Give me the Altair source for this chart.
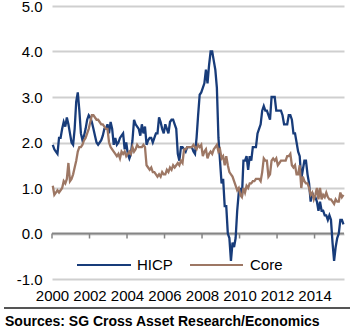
import altair as alt
import pandas as pd

# ---- data (euro area, % y/y, monthly from Jan 2000) ----
START_YEAR = 2000
series_names = ["HICP", "Core"]
source_text = "Sources: SG Cross Asset Research/Economics"
tick_years = [2000, 2002, 2004, 2006, 2008, 2010, 2012, 2014]
y_ticks = [-1, 0, 1, 2, 3, 4, 5]

hicp = [
    1.95, 1.85, 1.8, 1.75, 2.1, 2.1, 2.3, 2.45, 2.35, 2.55, 2.4, 2.2,      # 2000
    2.0, 1.95, 2.3, 2.9, 3.1, 2.7, 2.2, 2.05, 2.15, 2.3, 2.5, 2.6,        # 2001
    2.55, 2.45, 2.3, 2.15, 2.0, 1.95, 2.0, 2.05, 2.15, 2.3, 2.3, 2.4,     # 2002
    2.2, 2.45, 2.3, 1.95, 2.1, 1.95, 2.0, 2.1, 2.15, 2.2, 1.85, 2.0,      # 2003
    1.75, 1.65, 1.75, 2.05, 2.5, 2.4, 2.35, 2.3, 2.15, 2.4, 2.2, 2.35,    # 2004
    1.95, 2.05, 2.1, 2.1, 2.0, 2.1, 2.2, 2.2, 2.55, 2.45, 2.3, 2.2,       # 2005
    2.4, 2.3, 2.2, 2.45, 2.5, 2.5, 2.4, 2.3, 1.75, 1.6, 1.9, 1.9,         # 2006
    1.85, 1.8, 1.9, 1.9, 1.9, 1.9, 1.8, 1.75, 2.1, 2.6, 3.05, 3.1,        # 2007
    3.2, 3.3, 3.6, 3.3, 3.7, 4.0, 4.0, 3.8, 3.6, 3.2, 2.1, 1.6,           # 2008
    1.1, 1.2, 0.6, 0.6, 0.0, -0.1, -0.6, -0.2, -0.3, -0.1, 0.5, 0.9,     # 2009
    1.0, 0.8, 1.6, 1.6, 1.7, 1.4, 1.7, 1.6, 1.9, 1.9, 1.9, 2.2,           # 2010
    2.3, 2.4, 2.7, 2.8, 2.7, 2.7, 2.6, 2.5, 3.0, 3.0, 3.0, 2.7,           # 2011
    2.7, 2.7, 2.7, 2.6, 2.4, 2.4, 2.4, 2.6, 2.6, 2.5, 2.2, 2.2,           # 2012
    2.0, 1.8, 1.7, 1.2, 1.4, 1.6, 1.6, 1.3, 1.1, 0.7, 0.9, 0.8,           # 2013
    0.8, 0.7, 0.5, 0.7, 0.5, 0.5, 0.4, 0.4, 0.3, 0.4, 0.3, -0.2,          # 2014
    -0.6, -0.3, -0.1, 0.0, 0.3, 0.3, 0.2,                                 # 2015
]

core = [
    1.05, 0.85, 0.9, 0.95, 0.9, 0.95, 1.0, 1.15, 1.1, 1.2, 1.55, 1.15,    # 2000
    1.2, 1.3, 1.45, 1.6, 1.8, 1.9, 1.9, 1.95, 2.05, 2.1, 2.2, 2.3,        # 2001
    2.45, 2.6, 2.6, 2.55, 2.5, 2.5, 2.45, 2.4, 2.4, 2.35, 2.3, 2.3,       # 2002
    2.0, 1.9, 1.85, 1.8, 1.75, 1.7, 1.75, 1.65, 1.8, 1.75, 1.8, 1.7,      # 2003
    1.75, 1.8, 1.75, 1.9, 1.8, 1.85, 1.95, 1.9, 1.9, 1.9, 1.95, 1.9,      # 2004
    1.5, 1.45, 1.4, 1.45, 1.35, 1.35, 1.3, 1.25, 1.3, 1.25, 1.35, 1.3,    # 2005
    1.3, 1.4, 1.35, 1.45, 1.4, 1.5, 1.45, 1.5, 1.55, 1.5, 1.6, 1.55,      # 2006
    1.85, 1.85, 1.9, 1.9, 1.9, 1.9, 1.95, 1.9, 1.85, 1.95, 1.9, 1.95,     # 2007
    1.7, 1.8, 1.85, 1.65, 1.75, 1.8, 1.75, 1.85, 1.9, 1.95, 1.8, 1.85,    # 2008
    1.65, 1.7, 1.5, 1.7, 1.5, 1.35, 1.3, 1.25, 1.15, 1.05, 0.95, 1.0,     # 2009
    0.85, 0.8, 1.0, 0.9, 1.05, 1.0, 1.1, 1.1, 1.15, 1.15, 1.2, 1.2,       # 2010
    1.2, 1.15, 1.35, 1.65, 1.6, 1.6, 1.25, 1.3, 1.6, 1.65, 1.6, 1.65,     # 2011
    1.5, 1.55, 1.6, 1.6, 1.6, 1.6, 1.7, 1.7, 1.75, 1.5, 1.45, 1.5,        # 2012
    1.3, 1.3, 1.5, 1.0, 1.25, 1.15, 1.1, 1.1, 1.0, 0.85, 0.9, 0.75,       # 2013
    0.85, 1.0, 0.75, 1.0, 0.75, 0.85, 0.8, 0.9, 0.8, 0.75, 0.75, 0.7,     # 2014
    0.65, 0.75, 0.7, 0.7, 0.9, 0.8, 0.85,                                 # 2015
]

# ---- styling ----
BLUE = "#183c7a"
BROWN = "#9d7764"
FONT = "Liberation Sans"
W, H = 292, 273

rows = []
for name, vals in zip(series_names, [hicp, core]):
    for i, v in enumerate(vals):
        rows.append({"t": START_YEAR + (i + 0.5) / 12, "v": v, "series": name})
df = pd.DataFrame(rows)

x_enc = alt.X(
    "t:Q",
    scale=alt.Scale(domain=[2000, 2015.57], nice=False, zero=False),
    axis=alt.Axis(values=tick_years, format="d", title=None, grid=False,
                  ticks=False, domain=False, labelPadding=9, labelFontSize=15,
                  labelOverlap=False, labelFlush=False,
                  labelColor="black", labelFont=FONT),
)
y_enc = alt.Y(
    "v:Q",
    scale=alt.Scale(domain=[-1, 5], nice=False, zero=False),
    axis=alt.Axis(values=y_ticks, title=None, grid=True, gridColor="#cfcfcf",
                  gridWidth=2, ticks=False, domain=False, labelPadding=10,
                  labelFontSize=15, labelColor="black", labelFont=FONT,
                  labelOverlap=False, labelFlush=False,
                  labelExpr="datum.value < 0 ? '-' + format(-datum.value, '.1f') : format(datum.value, '.1f')"),
)

base = alt.Chart(df)

grid_layer = base.mark_line(opacity=0).encode(x=x_enc, y=y_enc)

zero_line = alt.Chart(pd.DataFrame({"v": [0]})).mark_rule(
    color="#858585", strokeWidth=2).encode(y="v:Q")

zero_ticks = alt.Chart(pd.DataFrame({"t": tick_years})).mark_rule(
    color="#858585", strokeWidth=1.5).encode(
    x="t:Q", y=alt.datum(0), y2=alt.value(H * 5 / 6 + 5))

hicp_line = base.transform_filter(alt.datum.series == series_names[0]).mark_line(
    color=BLUE, strokeWidth=2.3).encode(x="t:Q", y="v:Q")
core_line = base.transform_filter(alt.datum.series == series_names[1]).mark_line(
    color=BROWN, strokeWidth=2.3).encode(x="t:Q", y="v:Q")

one = pd.DataFrame({"k": [0]})
leg_y = 259
leg_h_rule = alt.Chart(one).mark_rule(color=BLUE, strokeWidth=2.2).encode(
    x=alt.value(25), x2=alt.value(79), y=alt.value(leg_y))
leg_h_text = alt.Chart(one).mark_text(align="left", baseline="middle", fontSize=15,
                                      font=FONT, color="black").encode(
    x=alt.value(85), y=alt.value(leg_y), text=alt.value(series_names[0]))
leg_c_rule = alt.Chart(one).mark_rule(color=BROWN, strokeWidth=2.2).encode(
    x=alt.value(138), x2=alt.value(191), y=alt.value(leg_y))
leg_c_text = alt.Chart(one).mark_text(align="left", baseline="middle", fontSize=15,
                                      font=FONT, color="black").encode(
    x=alt.value(198), y=alt.value(leg_y), text=alt.value(series_names[1]))

sep_rule = alt.Chart(one).mark_rule(color="#555555", strokeWidth=2).encode(
    x=alt.value(-48), x2=alt.value(298), y=alt.value(302))
src_text = alt.Chart(one).mark_text(align="left", baseline="middle", fontSize=14,
                                    font=FONT, fontWeight="bold", color="black").encode(
    x=alt.value(-47), y=alt.value(315.5), text=alt.value(source_text))

chart = alt.layer(
    grid_layer, zero_line, zero_ticks, hicp_line, core_line,
    leg_h_rule, leg_h_text, leg_c_rule, leg_c_text, sep_rule, src_text,
).properties(
    width=W, height=H,
    autosize=alt.AutoSizeParams(type="none"),
    padding={"left": 52, "top": 6, "right": 8, "bottom": 50},
    background="white",
).configure_view(strokeWidth=0)

chart.save("out.html", embed_options={"renderer": "svg", "actions": False})
